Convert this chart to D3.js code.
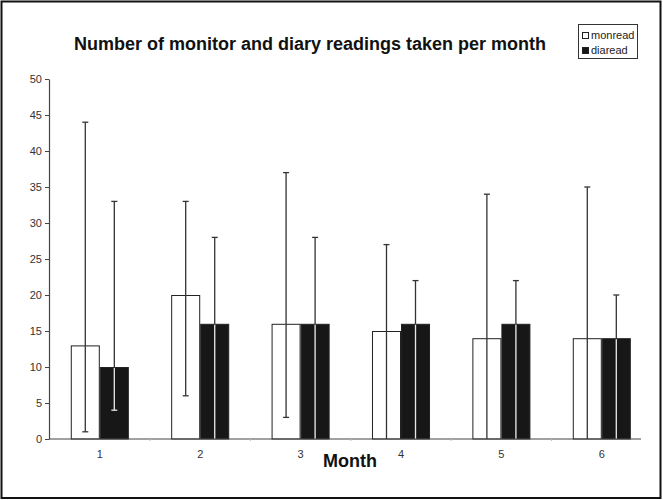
<!DOCTYPE html>
<html>
<head>
<meta charset="utf-8">
<script src="https://cdn.jsdelivr.net/npm/d3@7/dist/d3.min.js"></script>
<style>
  body { margin: 0; background: #fff; }
  svg { display: block; font-family: "Liberation Sans", Arial, sans-serif; }
</style>
</head>
<body>
<svg id="chart" width="663" height="500"></svg>
<script>
// data
const months = ['1', '2', '3', '4', '5', '6']
const series = ['monread', 'diaread']
const monread = [13, 20, 16, 15, 14, 14]
const diaread = [10, 16, 16, 16, 16, 14]
// error bar ends (lower values at 0 are clipped at the axis, no cap shown)
const monHigh = [44, 33, 37, 27, 34, 35]
const monLow = [1, 6, 3, 0, 0, 0]
const diaHigh = [33, 28, 28, 22, 22, 20]
const diaLow = [4, 0, 0, 0, 0, 0]
const yTicks = [0, 5, 10, 15, 20, 25, 30, 35, 40, 45, 50]

const M = { left: 49, right: 641, top: 79, bottom: 439 }
const W = 663, H = 500

const svg = d3.select('#chart')

// outer frame
svg.append('rect')
  .attr('x', 1.5).attr('y', 1.5).attr('width', W - 4).attr('height', H - 3.5)
  .attr('fill', 'none').attr('stroke', '#111').attr('stroke-width', 2)

const y = d3.scaleLinear().domain([0, 50]).range([M.bottom, M.top])

const x0 = d3.scaleBand()
  .domain(months)
  .range([M.left + 0.6, M.left + 0.6 + 100.4 * months.length])
  .padding(0)

const x1 = d3.scaleBand()
  .domain(series)
  .range([0, x0.bandwidth()])
  .paddingInner(0)
  .paddingOuter(0.73)

const rows = months.map((m, i) => ({
  month: m,
  vals: [
    { key: 'monread', v: monread[i], lo: monLow[i], hi: monHigh[i] },
    { key: 'diaread', v: diaread[i], lo: diaLow[i], hi: diaHigh[i] }
  ]
}))

// y axis
const yAxis = svg.append('g')
  .attr('transform', 'translate(' + M.left + ',0)')
  .call(d3.axisLeft(y).tickValues(yTicks).tickSize(4).tickSizeOuter(0).tickPadding(3))
yAxis.select('.domain').attr('stroke', '#444').attr('stroke-width', 1.2)
yAxis.selectAll('.tick line').attr('stroke', '#444')
yAxis.selectAll('.tick text')
  .attr('fill', '#333').attr('font-size', 11)
  .attr('font-family', '"Liberation Sans", Arial, sans-serif')

// bars
const groups = svg.append('g').selectAll('g')
  .data(rows).join('g')
  .attr('transform', (d) => 'translate(' + x0(d.month) + ',0)')

groups.selectAll('rect')
  .data((d) => d.vals).join('rect')
  .attr('x', (d) => x1(d.key) + 0.5)
  .attr('y', (d) => y(d.v) + 0.5)
  .attr('width', x1.bandwidth() - 1)
  .attr('height', (d) => y(0) - y(d.v) - 0.5)
  .attr('fill', (d) => d.key === 'monread' ? '#fff' : '#171717')
  .attr('stroke', '#222')
  .attr('stroke-width', 1)

// error bars
const err = groups.selectAll('g.err')
  .data((d) => d.vals).join('g')
  .attr('class', 'err')
  .attr('transform', (d) => 'translate(' + (x1(d.key) + x1.bandwidth() / 2) + ',0)')

err.append('line')
  .attr('x1', 0).attr('x2', 0)
  .attr('y1', (d) => y(d.hi)).attr('y2', (d) => y(Math.max(d.lo, 0)))
  .attr('stroke', '#333').attr('stroke-width', 1.3)

// whisker shows light where it runs through the black bars
err.filter((d) => d.key === 'diaread').append('line')
  .attr('x1', 0).attr('x2', 0)
  .attr('y1', (d) => y(d.v) + 1).attr('y2', (d) => y(Math.max(d.lo, 0)))
  .attr('stroke', '#e6e6e6').attr('stroke-width', 1.3)

err.append('line')
  .attr('x1', -3).attr('x2', 3)
  .attr('y1', (d) => y(d.hi)).attr('y2', (d) => y(d.hi))
  .attr('stroke', '#333').attr('stroke-width', 1.3)

err.filter((d) => d.lo > 0).append('line')
  .attr('x1', -3).attr('x2', 3)
  .attr('y1', (d) => y(d.lo)).attr('y2', (d) => y(d.lo))
  .attr('stroke', (d) => d.key === 'diaread' ? '#e6e6e6' : '#333')
  .attr('stroke-width', 1.3)

// x axis
const xAxis = svg.append('g')
  .attr('transform', 'translate(0,' + M.bottom + ')')
  .call(d3.axisBottom(x0).tickSize(0).tickPadding(11))
xAxis.select('.domain').remove()
xAxis.selectAll('.tick text')
  .attr('fill', '#333').attr('font-size', 11)
  .attr('font-family', '"Liberation Sans", Arial, sans-serif')
svg.append('line')
  .attr('x1', M.left).attr('x2', M.right)
  .attr('y1', M.bottom).attr('y2', M.bottom)
  .attr('stroke', '#444').attr('stroke-width', 1.2)

// faint category separators below the axis
svg.append('g').selectAll('line')
  .data(months.slice(1)).join('line')
  .attr('x1', (d) => x0(d)).attr('x2', (d) => x0(d))
  .attr('y1', M.bottom).attr('y2', M.bottom + 2)
  .attr('stroke', '#bbb')

// title
svg.append('text')
  .attr('x', 310).attr('y', 50)
  .attr('text-anchor', 'middle')
  .attr('font-size', 18).attr('font-weight', 'bold').attr('fill', '#111')
  .text('Number of monitor and diary readings taken per month')

// x axis title
svg.append('text')
  .attr('x', 350).attr('y', 467)
  .attr('text-anchor', 'middle')
  .attr('font-size', 18).attr('font-weight', 'bold').attr('fill', '#111')
  .text('Month')

// legend
const legend = svg.append('g').attr('transform', 'translate(578,24)')
legend.append('rect')
  .attr('x', 0.5).attr('y', 0.5).attr('width', 59).attr('height', 34)
  .attr('fill', '#fff').attr('stroke', '#333').attr('stroke-width', 1)
legend.selectAll('g.item')
  .data(series).join('g')
  .attr('class', 'item')
  .attr('transform', (d, i) => 'translate(4,' + (8 + i * 15) + ')')
  .call((g) => {
    g.append('rect')
      .attr('x', 0.5).attr('y', 0.5).attr('width', 6).attr('height', 6)
      .attr('fill', (d) => d === 'monread' ? '#fff' : '#171717')
      .attr('stroke', '#222')
    g.append('text')
      .attr('x', 9).attr('y', 7)
      .attr('font-size', 11).attr('fill', '#222')
      .text((d) => d)
  })
</script>
</body>
</html>
